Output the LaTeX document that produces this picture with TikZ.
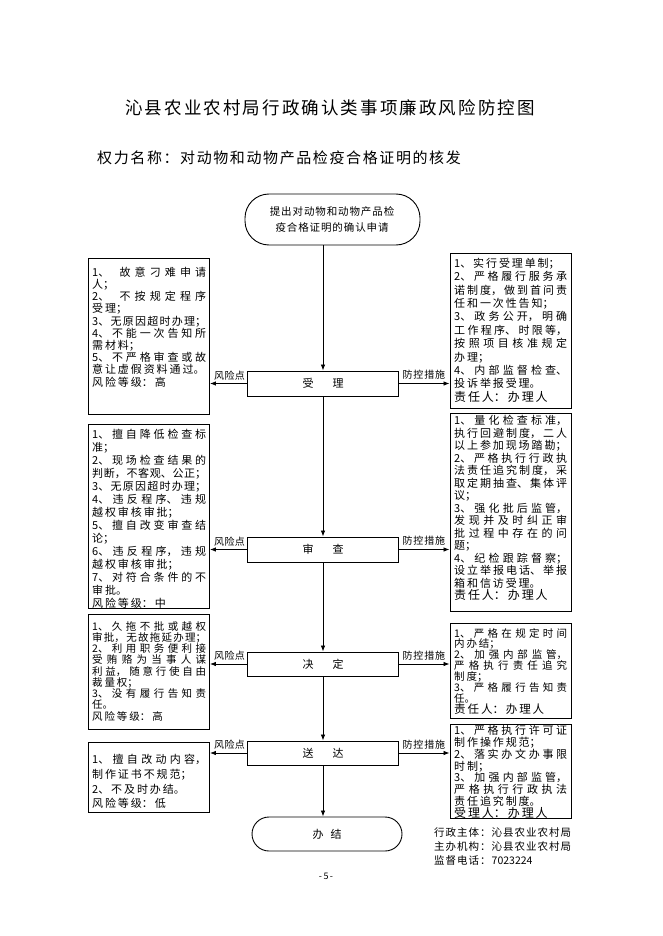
\documentclass[tikz,border=0pt]{standalone}
\usepackage{fontspec}
\setmainfont{Noto Sans CJK SC}
\usetikzlibrary{arrows.meta}
\XeTeXlinebreaklocale "zh"
\XeTeXlinebreakskip=1.9pt plus 3pt minus 1.9pt
\tolerance=10000 \hbadness=10000 \hfuzz=8pt
\newcommand\fsz[2]{\fontsize{#1}{#2}\selectfont\parindent=0pt\relax}
\newcommand\nl{\penalty-10000\relax}
\newcommand\hsp{\hspace{0pt plus 14pt}}
\newcommand\lsp[2]{\def\lspk{#1}\lspx#2\relax}
\def\lspx#1{\ifx#1\relax\else#1\kern\lspk\expandafter\lspx\fi}
\tikzset{
  frame/.style={draw, line width=0.9pt, inner sep=0pt},
  flow/.style={draw, line width=0.9pt, inner sep=0pt, minimum width=151pt, font=\fsz{11}{13}},
  txt/.style={anchor=north west, inner sep=0pt, text width=#1, align=justify},
  plain/.style={inner sep=0pt},
  arr/.style={line width=0.8pt, -{Latex[length=6pt,width=4.5pt]}},
  lbl/.style={inner sep=0pt, font=\fsz{10}{12}},
}
\begin{document}
\begin{tikzpicture}[x=1pt,y=-1pt]
\fill[white] (0,0) rectangle (662,936);
\useasboundingbox (0,0) rectangle (662,936);

% title
\node[plain] (title) at (331,108) {\fsz{17.5}{20}\lsp{2.1pt}{沁县农业农村局行政确认类事项廉政风险防控图}};
\node[plain, anchor=west] (sub) at (97,158) {\fsz{15}{18}\lsp{1.6pt}{权力名称：对动物和动物产品检疫合格证明的核发}};

% start / end
\node[frame, rounded corners=24pt, minimum width=175pt, minimum height=51pt, align=center, font=\fsz{10.5}{16}] (start) at (332.5,219.5)
  {\lsp{0.9pt}{提出对动物和动物产品检}\\\lsp{0.9pt}{疫合格证明的确认申请}};
\node[frame, rounded corners=17pt, minimum width=150pt, minimum height=34pt, font=\fsz{11}{13}] (E) at (327,834) {办\hspace{7pt}结};

% flow boxes
\node[flow, minimum height=25pt] (A) at (323,383.5) {受\hspace{19pt}理};
\node[flow, minimum height=25pt] (B) at (323,549.5) {审\hspace{19pt}查};
\node[flow, minimum height=24pt] (C) at (323,664) {决\hspace{19pt}定};
\node[flow, minimum height=24pt] (D) at (323,753) {送\hspace{19pt}达};

% left boxes
\node[frame, minimum width=121.5pt, minimum height=156pt] (L1) at (148.75,336) {};
\node[frame, minimum width=121.5pt, minimum height=184pt] (L2) at (148.75,516) {};
\node[frame, minimum width=121.5pt, minimum height=115pt] (L3) at (148.75,671.5) {};
\node[frame, minimum width=121.5pt, minimum height=70pt] (L4) at (148.75,777) {};
% right boxes
\node[frame, minimum width=121pt, minimum height=155pt] (R1) at (510.5,330.5) {};
\node[frame, minimum width=121pt, minimum height=198pt] (R2) at (510.5,512) {};
\node[frame, minimum width=121pt, minimum height=95pt] (R3) at (510.5,670.5) {};
\node[frame, minimum width=121pt, minimum height=94pt] (R4) at (510.5,771) {};

% texts
\node[txt=114pt, font=\fsz{11}{12.2}] (L1t) at (92,266.7) {1、\hsp 故意刁难申请\nl 人；\par 2、\hsp 不按规定程序\nl 受理；\par 3、无原因超时办理；\par 4、不能一次告知所\nl 需材料；\par 5、不严格审查或故\nl 意让虚假资料通过。\par 风险等级：高};
\node[txt=113pt, font=\fsz{11}{13.4}] (R1t) at (454,257.7) {1、实行受理单制；\par 2、严格履行服务承\nl 诺制度，做到首问责\nl 任和一次性告知；\par 3、政务公开，明确\nl 工作程序、时限等，\nl 按照项目核准规定\nl 办理；\par 4、内部监督检查、\nl 投诉举报受理。\par {\fsz{12}{13.4}责任人：办理人\par}};
\node[txt=114pt, font=\fsz{11}{13.0}] (L2t) at (92,429) {1、擅自降低检查标\nl 准；\par 2、现场检查结果的\nl 判断，不客观、公正；\par 3、无原因超时办理；\par 4、违反程序、违规\nl 越权审核审批；\par 5、擅自改变审查结\nl 论；\par 6、违反程序，违规\nl 越权审核审批；\par 7、对符合条件的不\nl 审批。\par 风险等级：中};
\node[txt=113pt, font=\fsz{11}{12.5}] (R2t) at (454,415) {1、量化检查标准，\nl 执行回避制度，二人\nl 以上参加现场踏勘；\par 2、严格执行行政执\nl 法责任追究制度，采\nl 取定期抽查、集体评\nl 议；\par 3、强化批后监管，\nl 发现并及时纠正审\nl 批过程中存在的问\nl 题；\par 4、纪检跟踪督察；\nl 设立举报电话、举报\nl 箱和信访受理。\par {\fsz{12}{12.5}责任人：办理人\par}};
\node[txt=114pt, font=\fsz{10.5}{11.25}] (L3t) at (92,621.2) {1、久拖不批或越权\nl 审批，无故拖延办理；\par 2、利用职务便利接\nl 受贿赂为当事人谋\nl 利益，随意行使自由\nl 裁量权；\par 3、没有履行告知责\nl 任。\par 风险等级：高};
\node[txt=113pt, font=\fsz{10.5}{10.9}] (R3t) at (454,627.9) {1、严格在规定时间\nl 内办结；\par 2、加强内部监管，\nl 严格执行责任追究\nl 制度；\par 3、严格履行告知责\nl 任。\par {\fsz{11.5}{11.2}责任人：办理人\par}};
\node[txt=114pt, font=\fsz{11}{14.7}] (L4t) at (92,754.3) {1、擅自改动内容，\nl 制作证书不规范；\par 2、不及时办结。\par 风险等级：低};
\node[txt=113pt, font=\fsz{11}{11.7}] (R4t) at (454,725.5) {1、严格执行许可证\nl 制作操作规范；\par 2、落实办文办事限\nl 时制；\par 3、加强内部监管，\nl 严格执行行政执法\nl 责任追究制度。\par {\fsz{12}{12}受理人：办理人\par}};

% vertical connectors
\draw[arr] (start.south -| A.north) -- (A.north);
\draw[arr] (A.south) -- (B.north);
\draw[arr] (B.south) -- (C.north);
\draw[arr] (C.south) -- (D.north);
\draw[arr] (D.south) -- (D.south |- E.north);

% side connectors and labels
\foreach \f/\l/\r in {A/L1/R1, B/L2/R2, C/L3/R3, D/L4/R4}{
  \draw[arr] (\f.west) -- (\f.west -| \l.east);
  \draw[arr] (\f.east) -- (\f.east -| \r.west);
  \node[lbl, anchor=east] (\f-risk) at ([xshift=-1.5pt, yshift=8pt]\f.west) {\lsp{0.4pt}{风险点}};
  \node[lbl, anchor=west] (\f-ctrl) at ([xshift=3.5pt, yshift=8.5pt]\f.east) {\lsp{0.8pt}{防控措施}};
}

% footer
\node[plain, anchor=west, font=\fsz{10.5}{13}] (f1) at (434,833) {\lsp{1pt}{行政主体：沁县农业农村局}};
\node[plain, anchor=west, font=\fsz{10.5}{13}] (f2) at (434,847) {\lsp{1pt}{主办机构：沁县农业农村局}};
\node[plain, anchor=west, font=\fsz{10.5}{13}] (f3) at (434,860.5) {\lsp{1pt}{监督电话：}7023224};
\node[plain, font=\fsz{9}{11}] (pg) at (326,876) {-\,5\,-};
\end{tikzpicture}
\end{document}
